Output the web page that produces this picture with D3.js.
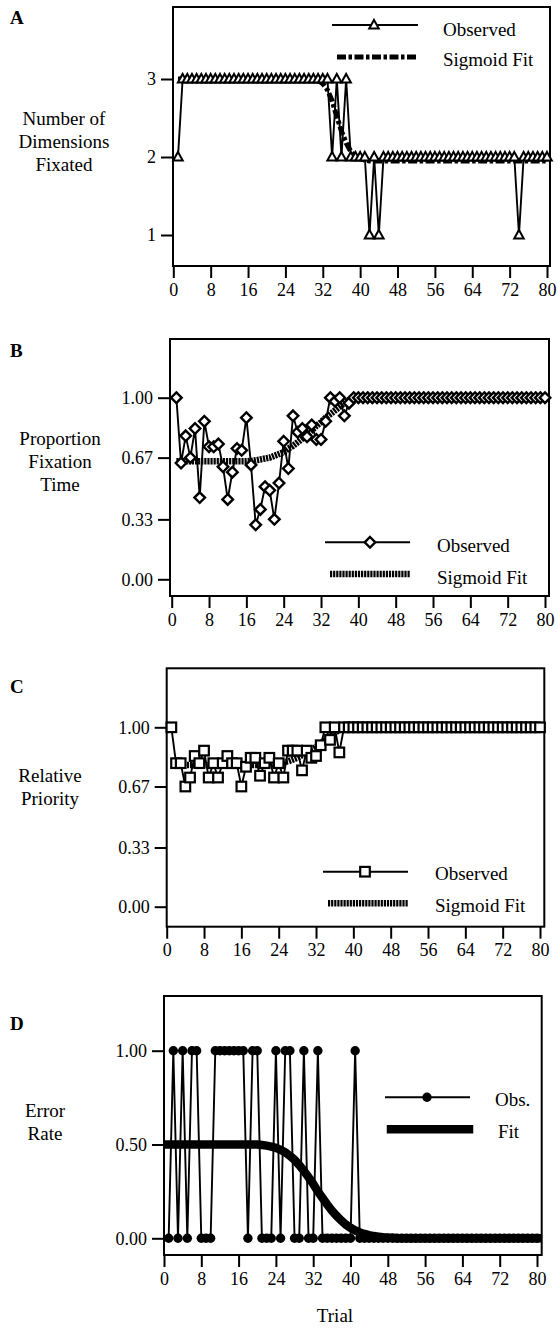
<!DOCTYPE html>
<html><head><meta charset="utf-8">
<script src="https://cdn.jsdelivr.net/npm/d3@7"></script>
<style>
html,body{margin:0;padding:0;background:#fff;}
svg{display:block;}
text{font-family:"Liberation Serif","Times New Roman",serif;fill:#000;}
</style></head>
<body>
<svg id="chart" width="557" height="1329"></svg>
<script>
// ---------- DATA ----------
const trials = d3.range(1, 81);
const xTickValues = [0, 8, 16, 24, 32, 40, 48, 56, 64, 72, 80];

// Panel A: Number of dimensions fixated
const dimsObserved = [2,3,3,3,3,3,3,3,3,3, 3,3,3,3,3,3,3,3,3,3, 3,3,3,3,3,3,3,3,3,3,
  3,3,3,2,3,2,3,2,2,2, 2,1,2,1,2,2,2,2,2,2, 2,2,2,2,2,2,2,2,2,2,
  2,2,2,2,2,2,2,2,2,2, 2,2,2,1,2,2,2,2,2,2];
const dimsFit = [3,3,3,3,3,3,3,3,3,3, 3,3,3,3,3,3,3,3,3,3, 3,3,3,3,3,3,3,3,3,3,
  2.98,2.94,2.86,2.72,2.52,2.33,2.18,2.07,2.01,1.98, 1.96,1.95,1.95,1.95,1.95,1.95,1.95,1.95,1.95,1.95,
  1.95,1.95,1.95,1.95,1.95,1.95,1.95,1.95,1.95,1.95, 1.95,1.95,1.95,1.95,1.95,1.95,1.95,1.95,1.95,1.95,
  1.95,1.95,1.95,1.95,1.95,1.95,1.95,1.95,1.95,1.95];
const dimsTicks = [1, 2, 3];
const dimsTickLabels = ["1", "2", "3"];

// Panel B: Proportion fixation time
const propObserved = [1.00,0.64,0.79,0.67,0.83,0.45,0.87,0.73,0.73,0.745,
  0.62,0.44,0.59,0.72,0.71,0.89,0.63,0.30,0.385,0.51,
  0.49,0.33,0.53,0.76,0.61,0.90,0.81,0.83,0.785,0.85,
  0.77,0.77,0.87,1.00,0.98,1.00,0.90,0.97,1,1,
  1,1,1,1,1,1,1,1,1,1, 1,1,1,1,1,1,1,1,1,1, 1,1,1,1,1,1,1,1,1,1, 1,1,1,1,1,1,1,1,1,1];
const propFit = [0.65,0.65,0.65,0.65,0.65,0.65,0.65,0.65,0.65,0.65,
  0.65,0.65,0.65,0.65,0.65,0.65,0.652,0.655,0.66,0.665,
  0.67,0.68,0.69,0.70,0.72,0.735,0.755,0.775,0.80,0.82,
  0.845,0.865,0.89,0.91,0.93,0.95,0.97,0.985,0.995,1,
  1,1,1,1,1,1,1,1,1,1, 1,1,1,1,1,1,1,1,1,1, 1,1,1,1,1,1,1,1,1,1, 1,1,1,1,1,1,1,1,1,1];
const propTicks = [0, 0.33, 0.67, 1.0];
const propTickLabels = ["0.00", "0.33", "0.67", "1.00"];

// Panel C: Relative priority
const prioObserved = [1.00,0.80,0.80,0.67,0.72,0.84,0.80,0.87,0.72,0.80,
  0.72,0.80,0.84,0.80,0.80,0.67,0.78,0.83,0.83,0.73,
  0.80,0.83,0.72,0.80,0.72,0.87,0.87,0.87,0.76,0.87,
  0.83,0.84,0.90,1.00,0.93,1.00,0.86,1.00,1,1,
  1,1,1,1,1,1,1,1,1,1, 1,1,1,1,1,1,1,1,1,1, 1,1,1,1,1,1,1,1,1,1, 1,1,1,1,1,1,1,1,1,1];
const prioFit = [0.79,0.79,0.79,0.79,0.79,0.79,0.79,0.79,0.79,0.79,
  0.79,0.79,0.79,0.79,0.79,0.79,0.79,0.79,0.79,0.79,
  0.79,0.79,0.795,0.80,0.805,0.81,0.82,0.83,0.845,0.86,
  0.875,0.89,0.91,0.93,0.95,0.97,0.985,0.995,1,1,
  1,1,1,1,1,1,1,1,1,1, 1,1,1,1,1,1,1,1,1,1, 1,1,1,1,1,1,1,1,1,1, 1,1,1,1,1,1,1,1,1,1];
const prioTicks = [0, 0.33, 0.67, 1.0];
const prioTickLabels = ["0.00", "0.33", "0.67", "1.00"];

// Panel D: Error rate
const errObserved = [0,1,0,1,0,1,1,0,0,0, 1,1,1,1,1,1,1,0,1,1,
  0,0,0,1,0,1,1,0,0,1, 0,0,1,0,0,0,0,0,0,0,
  1,0,0,0,0,0,0,0,0,0, 0,0,0,0,0,0,0,0,0,0, 0,0,0,0,0,0,0,0,0,0, 0,0,0,0,0,0,0,0,0,0];
const errFit = [0.5,0.5,0.5,0.5,0.5,0.5,0.5,0.5,0.5,0.5,
  0.5,0.5,0.5,0.5,0.5,0.5,0.5,0.5,0.5,0.5,
  0.497,0.494,0.489,0.482,0.472,0.458,0.44,0.418,0.39,0.36,
  0.325,0.29,0.25,0.215,0.18,0.148,0.12,0.095,0.073,0.056,
  0.042,0.031,0.023,0.017,0.012,0.009,0.006,0.004,0.003,0,
  0,0,0,0,0,0,0,0,0,0, 0,0,0,0,0,0,0,0,0,0, 0,0,0,0,0,0,0,0,0,0];
const errTicks = [0, 0.5, 1.0];
const errTickLabels = ["0.00", "0.50", "1.00"];

// ---------- LAYOUT ----------
const svg = d3.select("#chart");
const FONT = 19;

const panels = [
  { letter:"A", obs:dimsObserved, fit:dimsFit, ticks:dimsTicks, tickLabels:dimsTickLabels,
    frame:{l:173, t:7, r:550, b:266}, xr:[173.3, 547], yd:[1,3], yr:[235,79],
    ylabel:["Number of","Dimensions","Fixated"], ylx:64, yly:125,
    marker:"triangle", fitStyle:"dashdot",
    legend:{obs:"Observed", fit:"Sigmoid Fit", x1:332, x2:418, mx:374, y1:25, y2:57, tx:443, ty1:36, ty2:66} },
  { letter:"B", obs:propObserved, fit:propFit, ticks:propTicks, tickLabels:propTickLabels,
    frame:{l:170, t:339, r:549, b:596}, xr:[171.7, 545], yd:[0,1], yr:[579.3,397.7],
    ylabel:["Proportion","Fixation","Time"], ylx:60, yly:445,
    marker:"diamond", fitStyle:"hatch",
    legend:{obs:"Observed", fit:"Sigmoid Fit", x1:325, x2:410, mx:370, y1:542.3, y2:574, tx:437, ty1:552, ty2:584} },
  { letter:"C", obs:prioObserved, fit:prioFit, ticks:prioTicks, tickLabels:prioTickLabels,
    frame:{l:166.7, t:668.3, r:544.3, b:926.7}, xr:[166.7, 540], yd:[0,1], yr:[906.7,727.3],
    ylabel:["Relative","Priority"], ylx:50, yly:782,
    marker:"square", fitStyle:"hatch",
    legend:{obs:"Observed", fit:"Sigmoid Fit", x1:323, x2:408, mx:365, y1:871.7, y2:903.3, tx:435, ty1:880, ty2:912} },
  { letter:"D", obs:errObserved, fit:errFit, ticks:errTicks, tickLabels:errTickLabels,
    frame:{l:164, t:996, r:541.7, b:1255}, xr:[164, 537], yd:[0,1], yr:[1238.3,1050.7],
    ylabel:["Error","Rate"], ylx:45, yly:1117,
    marker:"circle", fitStyle:"solid",
    legend:{obs:"Obs.", fit:"Fit", x1:385, x2:470, mx:427, y1:1097.3, y2:1129.3, tx:495, ty1:1106, ty2:1138} }
];

const letterY = {A:24, B:357, C:693, D:1030};

function drawMarker(g, type, cx, cy) {
  if (type === "triangle") {
    const s = 9.5, h = 8.5;
    g.append("path").attr("d", `M${cx},${cy-h*0.6}L${cx+s/2},${cy+h*0.4}L${cx-s/2},${cy+h*0.4}Z`)
      .attr("fill","#fff").attr("stroke","#000").attr("stroke-width",2).attr("stroke-linejoin","miter");
  } else if (type === "diamond") {
    const r = 5.3;
    g.append("path").attr("d", `M${cx},${cy-r}L${cx+r},${cy}L${cx},${cy+r}L${cx-r},${cy}Z`)
      .attr("fill","#fff").attr("stroke","#000").attr("stroke-width",2.4);
  } else if (type === "square") {
    const r = 4.8;
    g.append("rect").attr("x",cx-r).attr("y",cy-r).attr("width",2*r).attr("height",2*r)
      .attr("fill","#fff").attr("stroke","#000").attr("stroke-width",2.2);
  } else {
    g.append("circle").attr("cx",cx).attr("cy",cy).attr("r",4.7).attr("fill","#000");
  }
}

function fitAttrs(sel, style) {
  if (style === "dashdot") {
    sel.attr("stroke-width",5).attr("stroke-dasharray","9,2.5,3.5,2.5");
  } else if (style === "hatch") {
    sel.attr("stroke-width",6.5).attr("stroke-dasharray","2.2,0.9");
  } else {
    sel.attr("stroke-width",8.5).attr("stroke-linecap","square");
  }
  return sel;
}

panels.forEach(p => {
  const g = svg.append("g");
  const f = p.frame;
  const x = d3.scaleLinear().domain([0,80]).range(p.xr);
  const y = d3.scaleLinear().domain(p.yd).range(p.yr);

  // frame
  g.append("rect").attr("x",f.l).attr("y",f.t).attr("width",f.r-f.l).attr("height",f.b-f.t)
    .attr("fill","none").attr("stroke","#000").attr("stroke-width",2);

  // x axis
  const xAxis = d3.axisBottom(x).tickValues(xTickValues).tickSize(12).tickPadding(5).tickFormat(d3.format("d"));
  const xg = g.append("g").attr("transform",`translate(0,${f.b})`).call(xAxis);
  xg.select(".domain").remove();
  xg.selectAll("line").attr("stroke","#000").attr("stroke-width",2);
  xg.selectAll("text").attr("font-size",18).attr("font-family","Liberation Serif, Times New Roman, serif").attr("fill","#000");

  // y axis
  const yAxis = d3.axisLeft(y).tickValues(p.ticks).tickSize(12).tickPadding(5)
    .tickFormat((d,i) => p.tickLabels[i]);
  const yg = g.append("g").attr("transform",`translate(${f.l},0)`).call(yAxis);
  yg.select(".domain").remove();
  yg.selectAll("line").attr("stroke","#000").attr("stroke-width",2);
  yg.selectAll("text").attr("font-size",18).attr("font-family","Liberation Serif, Times New Roman, serif").attr("fill","#000");

  // y label
  p.ylabel.forEach((t,i) => {
    g.append("text").attr("x",p.ylx).attr("y",p.yly + i*23).attr("text-anchor","middle")
      .attr("font-size",FONT).text(t);
  });

  // panel letter
  g.append("text").attr("x",10).attr("y",letterY[p.letter]).attr("font-size",19)
    .attr("font-weight","bold").text(p.letter);

  // fit line
  const fitLine = d3.line().x((d,i) => x(trials[i])).y(d => y(d));
  fitAttrs(g.append("path").datum(p.fit).attr("d",fitLine).attr("fill","none").attr("stroke","#000"), p.fitStyle);

  // observed line
  const obsLine = d3.line().x((d,i) => x(trials[i])).y(d => y(d));
  g.append("path").datum(p.obs).attr("d",obsLine).attr("fill","none").attr("stroke","#000")
    .attr("stroke-width",1.9).attr("stroke-linejoin","miter");

  // markers
  const mg = g.append("g");
  p.obs.forEach((v,i) => drawMarker(mg, p.marker, x(trials[i]), y(v)));

  // legend
  const L = p.legend;
  g.append("line").attr("x1",L.x1).attr("x2",L.x2).attr("y1",L.y1).attr("y2",L.y1)
    .attr("stroke","#000").attr("stroke-width",1.9);
  drawMarker(g, p.marker, L.mx, L.y1);
  g.append("text").attr("x",L.tx).attr("y",L.ty1).attr("font-size",FONT).text(L.obs);
  fitAttrs(g.append("line").attr("x1",L.x1 + (p.fitStyle==="solid"?6:5)).attr("x2",L.x2+(p.fitStyle==="solid"?-1:0))
    .attr("y1",L.y2).attr("y2",L.y2).attr("stroke","#000"), p.fitStyle);
  g.append("text").attr("x",L.tx + (p.fitStyle==="solid"?3:0)).attr("y",L.ty2).attr("font-size",FONT).text(L.fit);
});

// x-axis title
svg.append("text").attr("x",335).attr("y",1322).attr("text-anchor","middle")
  .attr("font-size",FONT).text("Trial");
</script>
</body></html>
